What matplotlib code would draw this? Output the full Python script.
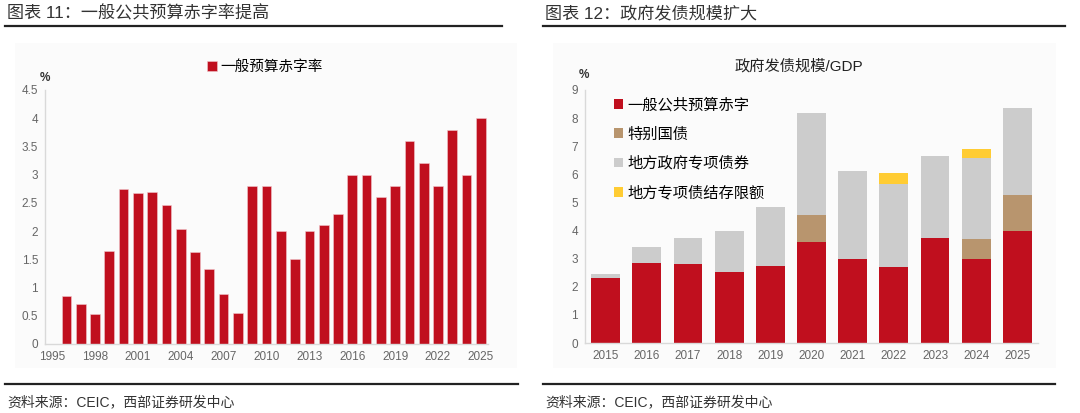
import matplotlib
matplotlib.use("Agg")
import matplotlib.pyplot as plt
from matplotlib.patches import Rectangle
from matplotlib.lines import Line2D
import numpy as np

plt.rcParams['font.family'] = ['Liberation Sans', 'Noto Sans CJK SC', 'DejaVu Sans']

# ---- data: left chart ----
years_left = list(range(1995, 2026))
deficit_rate = [0.0, 0.85, 0.7, 0.53, 1.65, 2.75, 2.67, 2.7, 2.46, 2.04, 1.63, 1.32, 0.89, 0.55,
                2.8, 2.8, 2.0, 1.5, 2.0, 2.1, 2.3, 3.0, 3.0, 2.6, 2.8, 3.6, 3.2, 2.8, 3.8, 3.0, 4.0]
left_tick_labels = ['1995', '1998', '2001', '2004', '2007', '2010', '2013', '2016', '2019', '2022', '2025']

# ---- data: right chart ----
years_right = ['2015', '2016', '2017', '2018', '2019', '2020', '2021', '2022', '2023', '2024', '2025']
general_deficit = [2.3, 2.85, 2.8, 2.53, 2.73, 3.61, 3.0, 2.7, 3.75, 3.0, 4.0]
special_treasury = [0, 0, 0, 0, 0, 0.96, 0, 0, 0, 0.7, 1.25]
local_special = [0.14, 0.55, 0.93, 1.44, 2.12, 3.62, 3.12, 2.97, 2.91, 2.89, 3.12]
local_unused_quota = [0, 0, 0, 0, 0, 0, 0, 0.38, 0, 0.32, 0]
right_series_names = ['一般公共预算赤字', '特别国债', '地方政府专项债券', '地方专项债结存限额']

RED = '#C00F1E'
BROWN = '#B8956E'
GRAY = '#CCCCCC'
YELLOW = '#FFCC33'
AXC = '#D9D9D9'
TXT = '#666666'

W, H = 1080, 413
fig = plt.figure(figsize=(W / 100, H / 100), dpi=100)

def fx(px):
    return px / W

def fy(py):
    return 1 - py / H

# faint background panels
for x0, x1 in [(15, 517), (553, 1056)]:
    fig.patches.append(Rectangle((fx(x0), fy(368)), fx(x1 - x0), (368 - 43) / H,
                                 transform=fig.transFigure, facecolor='#FBFBFB',
                                 edgecolor='none', zorder=-5))

# titles and rules
fig.text(fx(7), fy(13), '图表 11：一般公共预算赤字率提高', fontsize=12.3, color='#333333',
         va='center', ha='left')
fig.text(fx(545), fy(13), '图表 12：政府发债规模扩大', fontsize=12.3, color='#333333',
         va='center', ha='left')
for x0, x1 in [(5, 502), (543, 1065)]:
    fig.add_artist(Line2D([fx(x0), fx(x1)], [fy(26), fy(26)], color='#222222', lw=1.6,
                          transform=fig.transFigure))
for x0, x1 in [(5, 518), (543, 1055)]:
    fig.add_artist(Line2D([fx(x0), fx(x1)], [fy(384), fy(384)], color='#222222', lw=1.6,
                          transform=fig.transFigure))
fig.text(fx(7), fy(402), '资料来源：CEIC，西部证券研发中心', fontsize=10, color='#333333',
         va='center', ha='left')
fig.text(fx(545), fy(402), '资料来源：CEIC，西部证券研发中心', fontsize=10, color='#333333',
         va='center', ha='left')

def style_axis(ax):
    for s in ['top', 'right']:
        ax.spines[s].set_visible(False)
    for s in ['left', 'bottom']:
        ax.spines[s].set_color(AXC)
        ax.spines[s].set_linewidth(1.0)
    ax.tick_params(axis='both', length=0, labelsize=8.5, labelcolor=TXT, pad=5)
    ax.set_facecolor('none')
    ax.set_zorder(2)

# ---- left axes ----
axL = fig.add_axes([fx(45), fy(344), fx(488 - 45), (344 - 90) / H])
xl = np.arange(len(years_left))
axL.bar(xl, deficit_rate, width=0.68, color=RED, edgecolor='#F0C8CC', linewidth=0.4,
        label='一般预算赤字率', zorder=2)
axL.set_xlim(-0.5, len(years_left) - 0.5)
axL.set_ylim(0, 4.5)
axL.set_yticks(np.arange(0, 4.51, 0.5))
axL.set_yticklabels(['0', '0.5', '1', '1.5', '2', '2.5', '3', '3.5', '4', '4.5'])
axL.set_xticks([years_left.index(int(t)) for t in left_tick_labels])
axL.set_xticklabels(left_tick_labels)
style_axis(axL)
axL.legend(loc='center', bbox_to_anchor=(fx(265), fy(67)), bbox_transform=fig.transFigure,
           frameon=False, fontsize=10.5, handlelength=0.65, handleheight=0.65,
           handletextpad=0.25, borderpad=0)
fig.text(fx(45), fy(78), '%', fontsize=8.5, color='#333333', ha='center', va='center',
         fontweight='bold')

# ---- right axes ----
axR = fig.add_axes([fx(585), fy(343), fx(1038 - 585), (343 - 90) / H])
xr = np.arange(len(years_right))
b0 = np.zeros(len(years_right))
series = [(general_deficit, RED), (special_treasury, BROWN), (local_special, GRAY),
          (local_unused_quota, YELLOW)]
handles = []
for (vals, col), name in zip(series, right_series_names):
    v = np.array(vals)
    h = axR.bar(xr, v, bottom=b0, width=0.7, color=col, edgecolor='none', label=name, zorder=2)
    handles.append(h)
    b0 = b0 + v
axR.set_xlim(-0.5, len(years_right) - 0.5)
axR.set_ylim(0, 9)
axR.set_yticks(range(0, 10))
axR.set_xticks(xr)
axR.set_xticklabels(years_right)
style_axis(axR)
axR.legend(handles=handles, loc='upper left', bbox_to_anchor=(fx(614), fy(98)),
           bbox_transform=fig.transFigure, frameon=False, fontsize=11, handlelength=0.6,
           handleheight=0.6, handletextpad=0.25, labelspacing=0.97, borderpad=0,
           borderaxespad=0)
fig.text(fx(799), fy(66), '政府发债规模/GDP', fontsize=11, color='#222222', ha='center',
         va='center')
fig.text(fx(584), fy(75), '%', fontsize=8.5, color='#333333', ha='center', va='center',
         fontweight='bold')

fig.savefig('out.png', dpi=100, facecolor='white')
